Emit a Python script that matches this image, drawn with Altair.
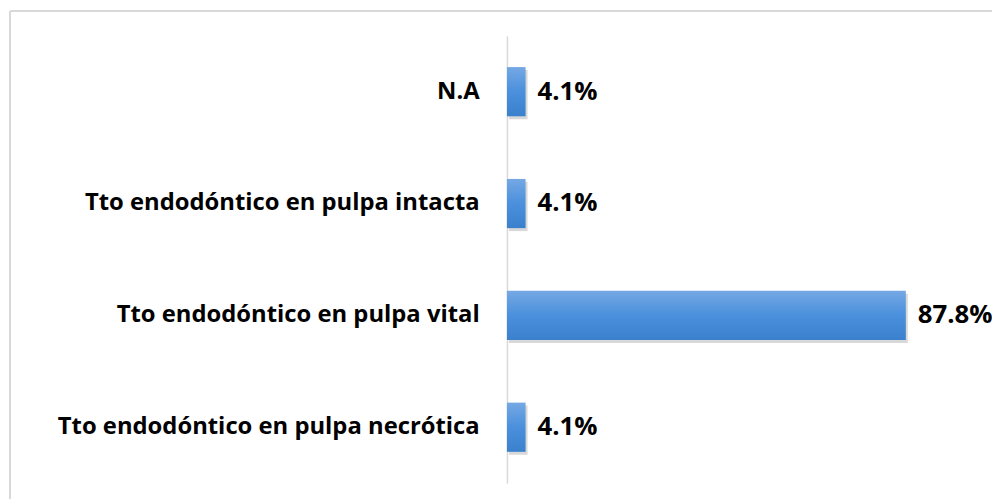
import altair as alt
import pandas as pd

categories = ["N.A", "Tto endodóntico en pulpa intacta", "Tto endodóntico en pulpa vital", "Tto endodóntico en pulpa necrótica"]
values = [4.1, 4.1, 87.8, 4.1]
value_labels = ["4.1%", "4.1%", "87.8%", "4.1%"]

df = pd.DataFrame({"cat": categories, "val": values, "lab": value_labels})

W = 458
H = 451
FONT = "Open Sans"

y_enc = alt.Y("cat:N", sort=categories, title=None,
              scale=alt.Scale(paddingInner=0.56, paddingOuter=0.28),
              axis=alt.Axis(labelFont=FONT, labelFontSize=24, labelFontWeight="bold",
                            labelColor="#000000", labelPadding=28, ticks=False,
                            domainColor="#d9d9d9", domainWidth=1.5, labelLimit=600))
x_enc = alt.X("val:Q", scale=alt.Scale(domain=[0, 100]), axis=None)

shadow = alt.Chart(df).mark_bar(color="#7f7f7f", opacity=0.3, xOffset=2, yOffset=3).encode(
    x=x_enc, y=y_enc)

bars = alt.Chart(df).mark_bar(
    color=alt.Gradient(gradient="linear", x1=0, x2=0, y1=0, y2=1,
                       stops=[alt.GradientStop(color="#75a8e4", offset=0),
                              alt.GradientStop(color="#4a90dc", offset=0.5),
                              alt.GradientStop(color="#3a80cc", offset=1)])
).encode(x=x_enc, y=y_enc)

text = alt.Chart(df).mark_text(align="left", baseline="middle", dx=12, font=FONT,
                               fontSize=26, fontWeight="bold", color="#000000").encode(
    x=x_enc, y=y_enc, text="lab:N")

frame_top = alt.Chart(df).mark_rule(color="#d9d9d9", strokeWidth=1.5).encode(
    x=alt.value(-501), x2=alt.value(W + 40), y=alt.value(-25))
frame_left = alt.Chart(df).mark_rule(color="#d9d9d9", strokeWidth=1.5).encode(
    x=alt.value(-501), y=alt.value(-25), y2=alt.value(H + 40))

chart = alt.layer(frame_top, frame_left, shadow, bars, text).properties(
    width=W, height=H,
    autosize=alt.AutoSizeParams(type="none"),
    padding={"left": 503, "top": 26, "right": 31, "bottom": 14},
).configure(background="white").configure_view(stroke=None, strokeWidth=0)

chart.save("out.html", embed_options={"renderer": "svg", "actions": False})
